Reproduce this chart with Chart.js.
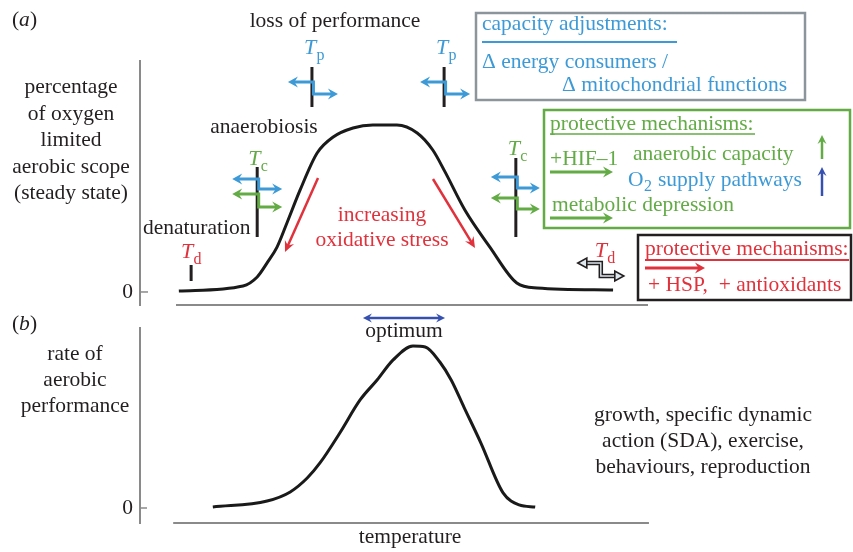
<!DOCTYPE html>
<html><head><meta charset="utf-8">
<script src="https://cdn.jsdelivr.net/npm/chart.js@4.4.1/dist/chart.umd.min.js"></script>
<style>html,body{margin:0;padding:0;background:#fff}#wrap{position:relative;width:853px;height:552px}canvas{position:absolute;left:0;top:0}</style>
</head><body><div id="wrap"><canvas id="ca" width="853" height="552"></canvas><canvas id="cb" width="853" height="552"></canvas></div>
<script>
// ---- data ----
const tempA  = [0.6,14.2,17.2,19.3,21.4,23.5,26.3,29.9,33.3,37.5,41.7,46.8,51.1,54.4,57.0,61.2,66.5,72.2,76.5,92.6];
const scopeA = [0.6,3.6,9.0,17.4,26.9,41.3,61.1,83.2,92.8,98.2,100,100,95.2,85.0,71.9,49.1,26.9,5.4,2.4,1.2];
const tempB  = [7.8,19.3,24.2,27.8,30.5,34.7,39.0,42.6,46.0,50.2,52.8,55.9,58.3,61.0,64.6,69.3,72.7,76.1];
const perfB  = [0.6,4.3,9.9,18.5,27.8,46.3,66.7,79.0,91.4,100,99.4,90.1,79.0,62.3,40.1,9.3,1.9,0.6];
const yTickValues = [0];
const yTickLabels = ['0'];
const thresholdSubs  = ['d','c','p','p','c','d'];
const thresholdTemps = [3.2,17.2,28.8,56.8,72.0,90.0];
const optimumRange = [39.6,57.0];
const tempAxis  = [-7.63,100];
const scopeAxis = [-7.8,138.3];
const perfAxis  = [-9.26,111.1];

// ---- styles ----
const FAM = '"Liberation Serif","DejaVu Serif",serif';
const FS = 21.5;
const BLACK = '#231f20', BLUE = '#3d9ad6', GREEN = '#62ab45', RED = '#e0323c', DBLUE = '#3650b0', GRAY = '#8a8a8a';

function txt(ctx, s, x, y, o = {}) {
  ctx.save();
  ctx.font = (o.italic ? 'italic ' : '') + (o.size || FS) + 'px ' + FAM;
  ctx.fillStyle = o.color || BLACK;
  ctx.textAlign = o.align || 'left';
  ctx.textBaseline = 'alphabetic';
  ctx.fillText(s, x, y);
  ctx.restore();
}
function line(ctx, x1, y1, x2, y2, color, lw) {
  ctx.save(); ctx.strokeStyle = color; ctx.lineWidth = lw; ctx.lineCap = 'butt';
  ctx.beginPath(); ctx.moveTo(x1, y1); ctx.lineTo(x2, y2); ctx.stroke(); ctx.restore();
}
function rect(ctx, x1, y1, x2, y2, color, lw) {
  ctx.save(); ctx.strokeStyle = color; ctx.lineWidth = lw; ctx.strokeRect(x1, y1, x2 - x1, y2 - y1); ctx.restore();
}
function head(ctx, tip, from, color, hl, hw, hollow) {
  const ang = Math.atan2(tip[1] - from[1], tip[0] - from[0]);
  ctx.save(); ctx.translate(tip[0], tip[1]); ctx.rotate(ang);
  ctx.beginPath();
  if (hollow) { ctx.moveTo(0, 0); ctx.lineTo(-hl, -hw); ctx.lineTo(-hl, hw); ctx.closePath();
    ctx.fillStyle = '#dfe8ee'; ctx.fill(); ctx.strokeStyle = BLACK; ctx.lineWidth = 1.6; ctx.stroke(); }
  else { ctx.moveTo(0, 0); ctx.lineTo(-hl, -hw); ctx.lineTo(-hl * 0.65, 0); ctx.lineTo(-hl, hw); ctx.closePath();
    ctx.fillStyle = color; ctx.fill(); }
  ctx.restore();
}
function shorten(a, b, d) { const dx = a[0] - b[0], dy = a[1] - b[1], L = Math.hypot(dx, dy); return [a[0] - dx / L * d, a[1] - dy / L * d]; }
function polyArrow(ctx, pts, color, lw, sh, eh, hl = 10, hw = 5.5) {
  const p = pts.map(a => a.slice()), n = pts.length;
  if (sh) p[0] = shorten(pts[0], pts[1], hl * 0.6);
  if (eh) p[n - 1] = shorten(pts[n - 1], pts[n - 2], hl * 0.6);
  ctx.save(); ctx.strokeStyle = color; ctx.lineWidth = lw; ctx.lineJoin = 'miter';
  ctx.beginPath(); ctx.moveTo(p[0][0], p[0][1]); for (let i = 1; i < n; i++) ctx.lineTo(p[i][0], p[i][1]); ctx.stroke(); ctx.restore();
  if (sh) head(ctx, pts[0], pts[1], color, hl, hw);
  if (eh) head(ctx, pts[n - 1], pts[n - 2], color, hl, hw);
}
function hollowElbow(ctx, pts) {
  const p = pts.map(a => a.slice()), n = pts.length, hl = 9;
  p[0] = shorten(pts[0], pts[1], hl); p[n - 1] = shorten(pts[n - 1], pts[n - 2], hl);
  const path = () => { ctx.beginPath(); ctx.moveTo(p[0][0], p[0][1]); for (let i = 1; i < n; i++) ctx.lineTo(p[i][0], p[i][1]); };
  ctx.save(); ctx.lineJoin = 'miter';
  path(); ctx.strokeStyle = BLACK; ctx.lineWidth = 4.5; ctx.stroke();
  path(); ctx.strokeStyle = '#dfe8ee'; ctx.lineWidth = 1.4; ctx.stroke();
  ctx.restore();
  head(ctx, pts[0], pts[1], BLACK, hl, 5, true);
  head(ctx, pts[n - 1], pts[n - 2], BLACK, hl, 5, true);
}
function elbow(ctx, x, y1, y2, dl, dr, color) {
  polyArrow(ctx, [[x - dl, y1], [x + 1.5, y1], [x + 1.5, y2], [x + dr, y2]], color, 3, true, true);
}
function tsub(ctx, x, base, sub, color) {
  txt(ctx, 'T', x, base, { italic: true, color, size: 22 });
  txt(ctx, sub, x + 12.5, base + 6, { color, size: 16 });
}

const annotA = {
  id: 'annotA',
  afterDraw(chart) {
    const ctx = chart.ctx, xs = chart.scales.x, ys = chart.scales.y;
    const X = t => xs.getPixelForValue(t);
    const y0 = ys.getPixelForValue(0);
    // axis pieces
    line(ctx, X(0), ys.bottom, X(100), ys.bottom, GRAY, 2);
    line(ctx, ys.right, y0, ys.right + 8, y0, GRAY, 1.5);

    // titles / labels
    txt(ctx, '(', 12, 26); txt(ctx, 'a', 19, 26, { italic: true }); txt(ctx, ')', 30, 26);
    txt(ctx, 'loss of performance', 335, 27, { align: 'center' });
    ['percentage', 'of oxygen', 'limited', 'aerobic scope', '(steady state)'].forEach((s, i) =>
      txt(ctx, s, 71, 93 + i * 26.5, { align: 'center' }));
    txt(ctx, 'anaerobiosis', 264, 133, { align: 'center' });
    txt(ctx, 'denaturation', 143, 234);
    txt(ctx, 'increasing', 382, 221, { align: 'center', color: RED });
    txt(ctx, 'oxidative stress', 382, 246, { align: 'center', color: RED });

    // red stress arrows
    polyArrow(ctx, [[318, 178], [285, 252]], RED, 2.5, false, true, 11, 5);
    polyArrow(ctx, [[433, 179], [475, 248]], RED, 2.5, false, true, 11, 5);

    // threshold markers
    const xp = thresholdTemps.map(X);
    // Td left
    line(ctx, xp[0], 265, xp[0], 281, BLACK, 3);
    tsub(ctx, xp[0] - 10, 258, thresholdSubs[0], RED);
    // Tc left
    line(ctx, xp[1], 167, xp[1], 237, BLACK, 3);
    tsub(ctx, xp[1] - 9, 165, thresholdSubs[1], GREEN);
    elbow(ctx, xp[1], 179, 189, 25, 25, BLUE);
    elbow(ctx, xp[1], 194, 207, 25, 25, GREEN);
    // Tp left / right
    [2, 3].forEach(i => {
      line(ctx, xp[i], 67, xp[i], 107, BLACK, 3);
      tsub(ctx, xp[i] - 8, 54, thresholdSubs[i], BLUE);
      elbow(ctx, xp[i], 82, 94, 24, 26, BLUE);
    });
    // Tc right
    line(ctx, xp[4], 158, xp[4], 237, BLACK, 3);
    tsub(ctx, xp[4] - 8, 155, thresholdSubs[4], GREEN);
    elbow(ctx, xp[4], 177, 188, 25, 24, BLUE);
    elbow(ctx, xp[4], 198, 209, 25, 24, GREEN);
    // Td right
    tsub(ctx, xp[5] - 6, 257, thresholdSubs[5], RED);
    hollowElbow(ctx, [[xp[5] - 23, 263], [xp[5], 263], [xp[5], 276], [xp[5] + 23, 276]]);

    // capacity box
    rect(ctx, 476, 13, 805, 100, '#8c959c', 2.5);
    txt(ctx, 'capacity adjustments:', 482, 30, { color: BLUE });
    line(ctx, 482, 42, 677, 42, BLUE, 2);
    txt(ctx, '\u0394 energy consumers /', 482, 68, { color: BLUE });
    txt(ctx, '\u0394 mitochondrial functions', 562, 91, { color: BLUE });

    // green box
    rect(ctx, 544, 110, 850, 228, GREEN, 2.5);
    txt(ctx, 'protective mechanisms:', 550, 130, { color: GREEN });
    line(ctx, 550, 134, 755, 134, GREEN, 1.5);
    txt(ctx, '+HIF\u20131', 550, 165, { color: GREEN });
    polyArrow(ctx, [[550, 172], [613, 172]], GREEN, 3, false, true);
    txt(ctx, 'anaerobic capacity', 633, 160, { color: GREEN });
    txt(ctx, 'O', 628, 186, { color: BLUE });
    txt(ctx, '2', 644, 191, { color: BLUE, size: 16 });
    txt(ctx, 'supply pathways', 658, 186, { color: BLUE });
    polyArrow(ctx, [[822, 159], [822, 135]], GREEN, 2.5, false, true, 9, 4.5);
    polyArrow(ctx, [[822, 196], [822, 167]], DBLUE, 2.5, false, true, 9, 4.5);
    txt(ctx, 'metabolic depression', 552, 211, { color: GREEN });
    polyArrow(ctx, [[550, 218], [613, 218]], GREEN, 3, false, true);

    // red/black box
    rect(ctx, 638, 235, 851, 300, BLACK, 2.5);
    txt(ctx, 'protective mechanisms:', 645, 255, { color: RED });
    line(ctx, 645, 260, 849, 260, RED, 2);
    polyArrow(ctx, [[645, 268], [705, 268]], RED, 3, false, true);
    txt(ctx, '+ HSP,  + antioxidants', 648, 291, { color: RED });
  }
};

const annotB = {
  id: 'annotB',
  afterDraw(chart) {
    const ctx = chart.ctx, xs = chart.scales.x, ys = chart.scales.y;
    const X = t => xs.getPixelForValue(t);
    const y0 = ys.getPixelForValue(0);
    line(ctx, X(-0.6), ys.bottom, X(100.2), ys.bottom, GRAY, 2);
    line(ctx, ys.right, y0, ys.right + 7, y0, GRAY, 1.5);
    txt(ctx, '(', 12, 330); txt(ctx, 'b', 19, 330, { italic: true }); txt(ctx, ')', 30, 330);
    ['rate of', 'aerobic', 'performance'].forEach((s, i) => txt(ctx, s, 75, 360 + i * 26, { align: 'center' }));
    ['growth, specific dynamic', 'action (SDA), exercise,', 'behaviours, reproduction'].forEach((s, i) =>
      txt(ctx, s, 703, 421 + i * 26, { align: 'center' }));
    polyArrow(ctx, [[X(optimumRange[0]), 318], [X(optimumRange[1]), 318]], DBLUE, 2.5, true, true, 9, 4.5);
    txt(ctx, 'optimum', (X(optimumRange[0]) + X(optimumRange[1])) / 2, 337, { align: 'center' });
    txt(ctx, 'temperature', 410, 543, { align: 'center' });
  }
};

function makeChart(id, xs, ys, yRange, pad, plugin) {
  return new Chart(document.getElementById(id), {
    type: 'line',
    data: { datasets: [{ data: xs.map((t, i) => ({ x: t, y: ys[i] })), borderColor: '#1a1a1a', borderWidth: 3,
      pointRadius: 0, cubicInterpolationMode: 'monotone', fill: false }] },
    options: {
      responsive: false, animation: false, devicePixelRatio: 1,
      layout: { padding: pad },
      plugins: { legend: { display: false }, tooltip: { enabled: false } },
      scales: {
        x: { type: 'linear', min: tempAxis[0], max: tempAxis[1], display: false },
        y: { type: 'linear', min: yRange[0], max: yRange[1],
          afterFit: s => { s.width = 40; },
          afterBuildTicks: s => { s.ticks = yTickValues.map(v => ({ value: v })); },
          grid: { display: false, drawTicks: false },
          border: { display: true, color: GRAY, width: 2 },
          ticks: { padding: 7, color: BLACK, font: { family: FAM, size: FS },
            callback: v => { const i = yTickValues.indexOf(v); return i >= 0 ? yTickLabels[i] : ''; } } }
      }
    },
    plugins: [plugin]
  });
}
makeChart('ca', tempA, scopeA, scopeAxis, { left: 100, top: 61, right: 205, bottom: 247 }, annotA);
makeChart('cb', tempB, perfB, perfAxis, { left: 100, top: 328, right: 205, bottom: 29 }, annotB);
</script></body></html>
